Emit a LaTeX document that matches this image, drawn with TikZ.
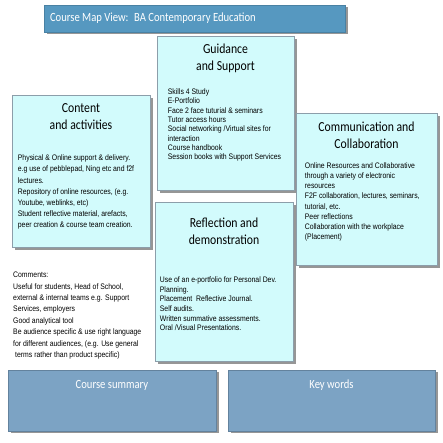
\documentclass[tikz,border=0pt]{standalone}
\usepackage{fontspec}
\setmainfont{Liberation Sans}
\newfontfamily\bodyfont{Liberation Sans}[FakeStretch=0.86]
\newfontfamily\headfont{Carlito}[FakeStretch=0.85]
\usepackage{xcolor}
\usepackage{tikz}
\usetikzlibrary{positioning,shadows}
\definecolor{mapcyan}{RGB}{210,251,252}
\definecolor{mapedge}{RGB}{140,158,170}
\definecolor{mapshade}{RGB}{150,150,150}
\definecolor{titleblue}{RGB}{86,152,192}
\definecolor{barblue}{RGB}{124,163,196}
\tikzset{
  mapbox/.style={rectangle, draw=mapedge, line width=0.6pt, fill=mapcyan, drop shadow={shadow xshift=3pt, shadow yshift=-3pt, fill=mapshade, opacity=1}},
  bar/.style={rectangle, draw=barblue!80!black, line width=0.4pt, fill=barblue, drop shadow={shadow xshift=3pt, shadow yshift=-2pt, fill=mapshade, opacity=1}},
  heading/.style={align=center, inner sep=0pt, font=\headfont\fontsize{13.8}{17}\selectfont},
  body/.style={align=left, inner sep=0pt, font=\bodyfont\fontsize{8}{#1}\selectfont},
  body/.default=9.6,
  barlabel/.style={inner sep=0pt, text=white, font=\headfont\fontsize{12.5}{15}\selectfont}
}

\begin{document}
\begin{tikzpicture}[x=1pt, y=-1pt]
\path[use as bounding box, fill=white] (0,0) rectangle (443,443);
\node[bar, fill=titleblue, draw=titleblue!85!black, minimum width=301pt, minimum height=27pt] (title) at (194.5,18.5) {};
\node[barlabel, anchor=west, right=6pt of title.west] (titletext) {Course Map View:~ BA Contemporary Education};

\node[mapbox, minimum width=137pt, minimum height=154pt] (guide) at (225.5,113) {};
\node[heading, below=8pt of guide.north] (guidehead) {Guidance\\and Support};
\node[body=9.3, below right=53pt and 11pt of guide.north west] (guidetext) {Skills 4 Study\\E-Portfolio\\Face 2 face tuturial \& seminars\\Tutor access hours\\Social networking /Virtual sites for\\interaction\\Course handbook\\Session books with Support Services};

\node[mapbox, minimum width=138pt, minimum height=152pt] (content) at (81,171) {};
\node[heading, below=9pt of content.north] (contenthead) {Content\\and activities};
\node[body=11.2, below right=60pt and 6pt of content.north west] (contenttext) {Physical \& Online support \& delivery.\\e.g use of pebblepad, Ning etc and f2f\\lectures.\\Repository of online resources, (e.g.\\Youtube, weblinks, etc)\\Student reflective material, arefacts,\\peer creation \& course team creation.};

\node[mapbox, minimum width=141pt, minimum height=152pt] (comm) at (366.5,189) {};
\node[heading, below=9pt of comm.north] (commhead) {Communication and\\Collaboration};
\node[body=10.1, below right=50pt and 9pt of comm.north west] (commtext) {Online Resources and Collaborative\\through a variety of electronic\\resources\\F2F collaboration, lectures, seminars,\\tutorial, etc.\\Peer reflections\\Collaboration with the workplace\\(Placement)};

\node[mapbox, minimum width=138pt, minimum height=159pt] (reflect) at (224,281.5) {};
\node[heading, below=16pt of reflect.north] (reflecthead) {Reflection and\\demonstration};
\node[body=9.6, below right=75pt and 5pt of reflect.north west] (reflecttext) {Use of an e-portfolio for Personal Dev.\\Planning.\\Placement~ Reflective Journal.\\Self audits.\\Written summative assessments.\\Oral /Visual Presentations.};

\node[body=11.4, anchor=north west] (comments) at (13,272) {Comments:\\Useful for students, Head of School,\\external \& internal teams e.g. Support\\Services, employers\\Good analytical tool\\Be audience specific \& use right language\\for different audiences, (e.g. Use general\\\hspace{2pt}terms rather than product specific)};

\node[bar, minimum width=208pt, minimum height=61pt] (summary) at (112,400.5) {};
\node[barlabel, below=10pt of summary.north] (summarytext) {Course summary};
\node[bar, minimum width=207pt, minimum height=61pt] (keywords) at (331.5,400.5) {};
\node[barlabel, below=10pt of keywords.north] (keywordstext) {Key words};
\end{tikzpicture}
\end{document}
